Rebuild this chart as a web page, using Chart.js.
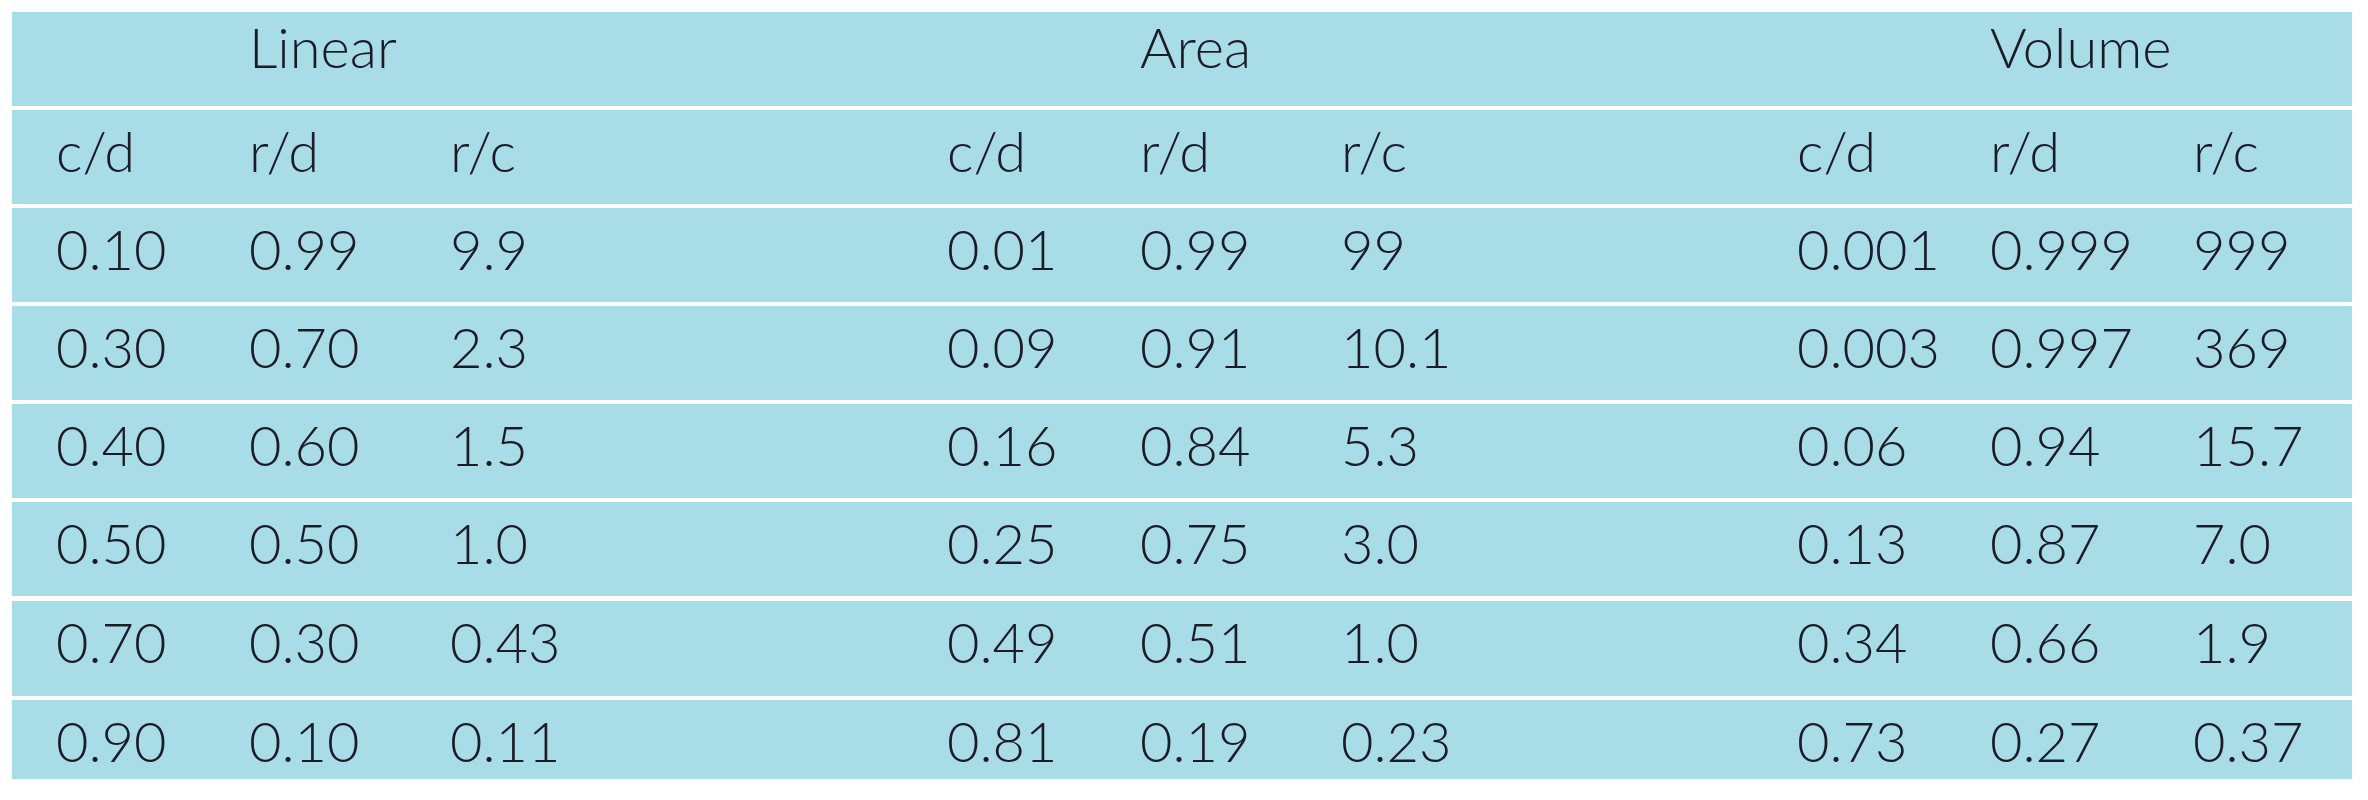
<!DOCTYPE html>
<html><head><meta charset="utf-8">
<script src="https://cdn.jsdelivr.net/npm/chart.js@4/dist/chart.umd.min.js"></script>
<style>html,body{margin:0;padding:0;background:#fff}</style>
</head><body>
<canvas id="c" width="2368" height="800"></canvas>
<script>
const groups = ["Linear", "Area", "Volume"];
const columnLabels = ["c/d", "r/d", "r/c"];
const linearCD = ["0.10","0.30","0.40","0.50","0.70","0.90"];
const linearRD = ["0.99","0.70","0.60","0.50","0.30","0.10"];
const linearRC = ["9.9","2.3","1.5","1.0","0.43","0.11"];
const areaCD = ["0.01","0.09","0.16","0.25","0.49","0.81"];
const areaRD = ["0.99","0.91","0.84","0.75","0.51","0.19"];
const areaRC = ["99","10.1","5.3","3.0","1.0","0.23"];
const volumeCD = ["0.001","0.003","0.06","0.13","0.34","0.73"];
const volumeRD = ["0.999","0.997","0.94","0.87","0.66","0.27"];
const volumeRC = ["999","369","15.7","7.0","1.9","0.37"];

const groupCols = [[linearCD, linearRD, linearRC],[areaCD, areaRD, areaRC],[volumeCD, volumeRD, volumeRC]];
// layout (pixel-unit scale)
const colX = [[56,249,450],[947,1140,1341],[1797,1990,2193]];
const rowTop = [12,110,208,306,404,502,601,700];
const rowBot = [106,204,302,400,498,596,696,779];
const tableLeft = 12, tableRight = 2352;

const tablePlugin = {
  id: 'table',
  beforeDatasetsDraw(chart) {
    const {ctx, scales:{x, y}} = chart;
    ctx.save();
    ctx.fillStyle = '#a8dde8';
    for (let r = 0; r < rowTop.length; r++) {
      const x0 = x.getPixelForValue(tableLeft), x1 = x.getPixelForValue(tableRight);
      const y0 = y.getPixelForValue(rowTop[r]), y1 = y.getPixelForValue(rowBot[r]);
      ctx.fillRect(x0, y0, x1 - x0, y1 - y0);
    }
    ctx.fillStyle = '#1c1c28';
    ctx.textBaseline = 'middle';
    ctx.textAlign = 'left';
    ctx.font = '300 56px Lato';
    const ty = r => y.getPixelForValue(rowTop[r] + (r === 0 ? 38 : 44));
    groups.forEach((g, gi) => {
      ctx.fillText(g, x.getPixelForValue(colX[gi][1]), ty(0));
      columnLabels.forEach((c, ci) => ctx.fillText(c, x.getPixelForValue(colX[gi][ci]), ty(1)));
      groupCols[gi].forEach((col, ci) => {
        col.forEach((v, ri) => ctx.fillText(v, x.getPixelForValue(colX[gi][ci]), ty(ri + 2)));
      });
    });
    ctx.restore();
  }
};

new Chart(document.getElementById('c'), {
  type: 'scatter',
  data: { datasets: [{ data: [], pointRadius: 0 }] },
  options: {
    responsive: false, animation: false, devicePixelRatio: 1,
    layout: { padding: 0 },
    plugins: { legend: { display: false }, tooltip: { enabled: false } },
    scales: {
      x: { type: 'linear', min: 0, max: 2368, display: false },
      y: { type: 'linear', min: 0, max: 800, reverse: true, display: false }
    }
  },
  plugins: [tablePlugin]
});
</script>
</body></html>
